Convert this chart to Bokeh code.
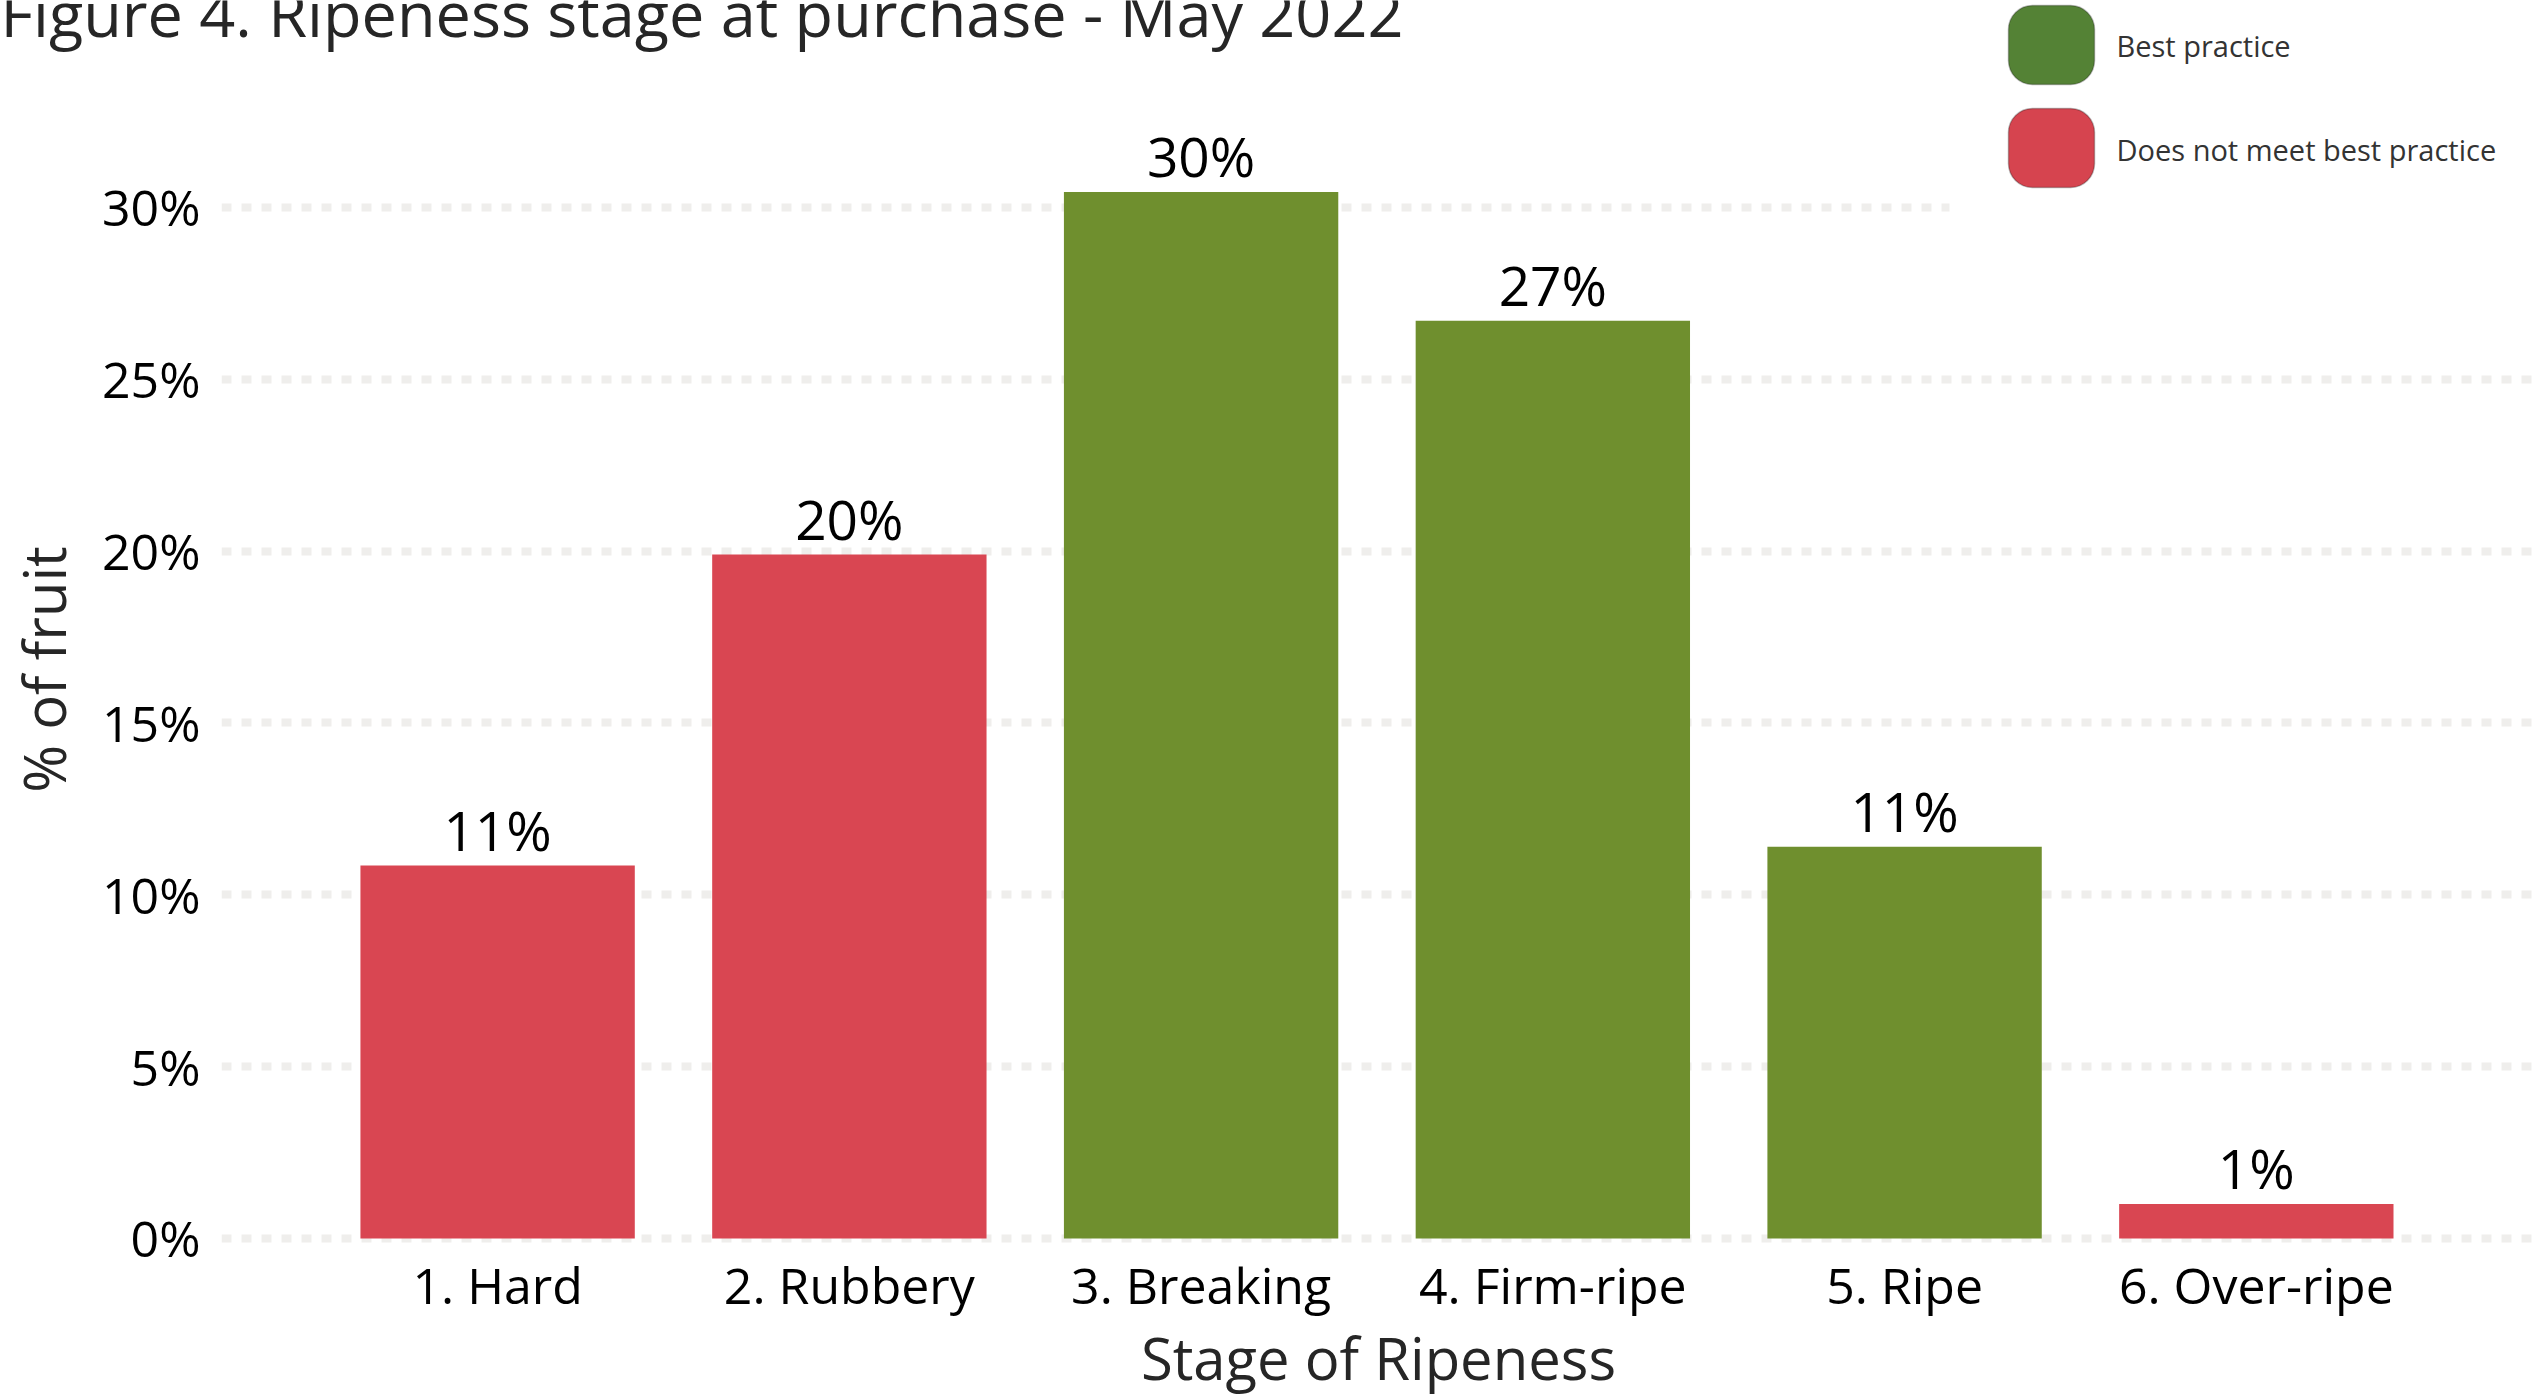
from bokeh.plotting import figure
from bokeh.layouts import column
from bokeh.models import (ColumnDataSource, FixedTicker, Range1d, LabelSet, Label, BoxAnnotation)
from bokeh.core.properties import value
from bokeh.embed import file_html
from bokeh.resources import INLINE

# ---- data ----
categories = ["1. Hard", "2. Rubbery", "3. Breaking", "4. Firm-ripe", "5. Ripe", "6. Over-ripe"]
values = [10.85, 19.9, 30.45, 26.7, 11.4, 1.0]
value_labels = ["11%", "20%", "30%", "27%", "11%", "1%"]
best_practice = [False, False, True, True, True, False]
y_ticks = [0, 5, 10, 15, 20, 25, 30]
y_tick_labels = ["0%", "5%", "10%", "15%", "20%", "25%", "30%"]
legend_labels = ["Best practice", "Does not meet best practice"]

title_text = "Figure 4. Ripeness stage at purchase - May 2022"
x_title = "Stage of Ripeness"
y_title = "% of fruit"

GREEN = "#6F8F2E"
RED = "#D94652"
LEG_GREEN = "#548235"
LEG_RED = "#D6444F"
FONT = "Open Sans"
W = 2533
BASE_SHIFT = 0.388  # Label y -> baseline correction (fraction of font size)


def text_label(x, baseline, txt, size, color, align="left"):
    return Label(x=x, y=baseline - BASE_SHIFT * size, x_units="canvas", y_units="canvas",
                 text=txt, text_font=FONT, text_font_size=f"{size}px", text_color=color,
                 text_baseline="alphabetic", text_align=align)


def blank_fig(h):
    f = figure(width=W, height=h, output_backend="svg", toolbar_location=None,
               x_range=Range1d(0, 1), y_range=Range1d(0, 1),
               x_axis_location=None, y_axis_location=None,
               min_border=0, min_border_left=0, min_border_right=0,
               min_border_top=0, min_border_bottom=0)
    f.frame_align = False
    f.outline_line_color = None
    f.xgrid.visible = False
    f.ygrid.visible = False
    f.background_fill_color = "white"
    f.border_fill_color = "white"
    return f


def legend_item(fig, top, col, txt, base):
    fig.add_layout(BoxAnnotation(left=2008, right=2094, top=top, bottom=top + 79,
                                 left_units="canvas", right_units="canvas",
                                 top_units="canvas", bottom_units="canvas",
                                 fill_color=col, fill_alpha=1, line_color="#1a1a1a",
                                 line_width=1.5, border_radius=24))
    fig.add_layout(text_label(2116, base, txt, 29, "#333333"))


# ---- top strip: title + first legend entry ----
top = blank_fig(86)
top.add_layout(text_label(0, 36, title_text, 63, "#262626"))
legend_item(top, 5, LEG_GREEN, legend_labels[0], 56)

# ---- main chart ----
positions = list(range(len(categories)))
colors = [GREEN if b else RED for b in best_practice]
src = ColumnDataSource(dict(x=positions, top=values, color=colors, lab=value_labels))

p = figure(width=W, height=1235, output_backend="svg", toolbar_location=None,
           x_range=Range1d(-0.785, 5.788), y_range=Range1d(-0.41, 33.52),
           min_border_left=218, min_border_right=0, min_border_top=0, min_border_bottom=0)
p.frame_align = False
p.outline_line_color = None
p.background_fill_color = "white"
p.border_fill_color = "white"

p.vbar(x="x", top="top", width=0.78, bottom=0, color="color", line_color=None, source=src)

labels = LabelSet(x="x", y="top", text="lab", source=src, text_align="center",
                  text_baseline="alphabetic", y_offset=15, text_font=value(FONT),
                  text_font_size=value("55px"), text_color="black")
p.add_layout(labels)

p.xaxis.ticker = FixedTicker(ticks=positions)
p.xaxis.major_label_overrides = {i: c for i, c in zip(positions, categories)}
p.yaxis.ticker = FixedTicker(ticks=y_ticks)
p.yaxis.major_label_overrides = {t: l for t, l in zip(y_ticks, y_tick_labels)}
for ax in (p.xaxis, p.yaxis):
    ax.axis_line_color = None
    ax.major_tick_line_color = None
    ax.minor_tick_line_color = None
    ax.major_tick_out = 0
    ax.major_tick_in = 0
    ax.major_label_text_font = FONT
    ax.major_label_text_font_size = "50px"
    ax.major_label_text_color = "black"
    ax.axis_label_text_font = FONT
    ax.axis_label_text_font_style = "normal"
    ax.axis_label_text_color = "#262626"
p.yaxis.axis_label = y_title
p.yaxis.axis_label_text_font_size = "58px"
p.xaxis.major_label_standoff = -2
p.yaxis.major_label_standoff = 21
p.yaxis.axis_label_standoff = 16

p.xgrid.grid_line_color = None
p.ygrid.grid_line_color = "#EFEEEC"
p.ygrid.grid_line_width = 8
p.ygrid.grid_line_dash = "10 10"

# white background of the pasted legend, then second legend entry
p.add_layout(BoxAnnotation(left=1949, right=W, top=0, bottom=129,
                           left_units="canvas", right_units="canvas",
                           top_units="canvas", bottom_units="canvas",
                           fill_color="white", fill_alpha=1, line_color=None))
legend_item(p, 22, LEG_RED, legend_labels[1], 74)

# ---- bottom strip: x axis title ----
bottom = blank_fig(75)
bottom.add_layout(text_label(1378, 59, x_title, 58, "#262626", align="center"))

layout = column(top, p, bottom, spacing=0)
open("out.html", "w").write(file_html(layout, INLINE))
